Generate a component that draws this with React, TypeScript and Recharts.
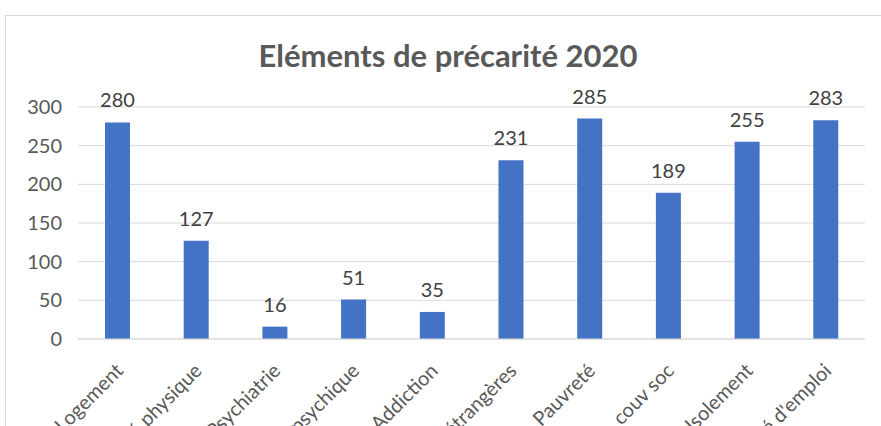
import { Bar, BarChart, CartesianGrid, LabelList, XAxis, YAxis } from "recharts";

const categories = [
    "Logement",
    "Santé physique",
    "Psychiatrie",
    "Santé psychique",
    "Addiction",
    "Personnes étrangères",
    "Pauvreté",
    "Abs. couv soc",
    "Isolement",
    "Précarité d'emploi",
];
const values = [280, 127, 16, 51, 35, 231, 285, 189, 255, 283];
const yTicks = [0, 50, 100, 150, 200, 250, 300];

const data = categories.map((name, i) => ({ name, value: values[i] }));

const FONT = "Lato, 'Open Sans', sans-serif";

// rotated category labels, the end of the text sits just right of the bar centre
function CategoryTick({ x, y, payload }: { x?: number; y?: number; payload?: { value: string } }) {
    return (
        <text
            x={0}
            y={0}
            transform={`translate(${(x ?? 0) + 7}, ${(y ?? 0) + 33}) rotate(-45)`}
            textAnchor="end"
            fill="#595959"
            fontSize={20}
            fontFamily={FONT}
        >
            {payload?.value}
        </text>
    );
}

export default function App() {
    return (
        <div
            style={{
                position: "fixed",
                left: 0,
                top: 0,
                width: 881,
                height: 426,
                overflow: "hidden",
                background: "#fff",
            }}
        >
            <div
                style={{
                    position: "absolute",
                    left: 5,
                    top: 15,
                    width: 900,
                    height: 500,
                    border: "1px solid #d9d9d9",
                    boxSizing: "border-box",
                }}
            />
            <div
                style={{
                    position: "absolute",
                    left: 0,
                    width: 896,
                    top: 37,
                    textAlign: "center",
                    fontFamily: FONT,
                    fontWeight: 700,
                    fontSize: 31,
                    color: "#595959",
                    lineHeight: "36px",
                }}
            >
                Eléments de précarité 2020
            </div>
            <div style={{ position: "absolute", left: 0, top: 0 }}>
                <BarChart
                    width={881}
                    height={426}
                    data={data}
                    margin={{ top: 107, right: 16, left: 0, bottom: 0 }}
                >
                    <CartesianGrid vertical={false} stroke="#d9d9d9" strokeWidth={1} />
                    <YAxis
                        width={78}
                        domain={[0, 300]}
                        ticks={yTicks}
                        axisLine={false}
                        tickLine={false}
                        tickMargin={10}
                        tick={{ fill: "#595959", fontSize: 20, fontFamily: FONT }}
                    />
                    <XAxis
                        dataKey="name"
                        height={87}
                        interval={0}
                        axisLine={{ stroke: "#d9d9d9" }}
                        tickLine={false}
                        tickSize={0}
                        tickMargin={0}
                        tick={<CategoryTick />}
                    />
                    <Bar dataKey="value" fill="#4472c4" barSize={25} isAnimationActive={false}>
                        <LabelList
                            dataKey="value"
                            position="top"
                            offset={15}
                            fill="#404040"
                            fontSize={20}
                            fontFamily={FONT}
                        />
                    </Bar>
                </BarChart>
            </div>
        </div>
    );
}
